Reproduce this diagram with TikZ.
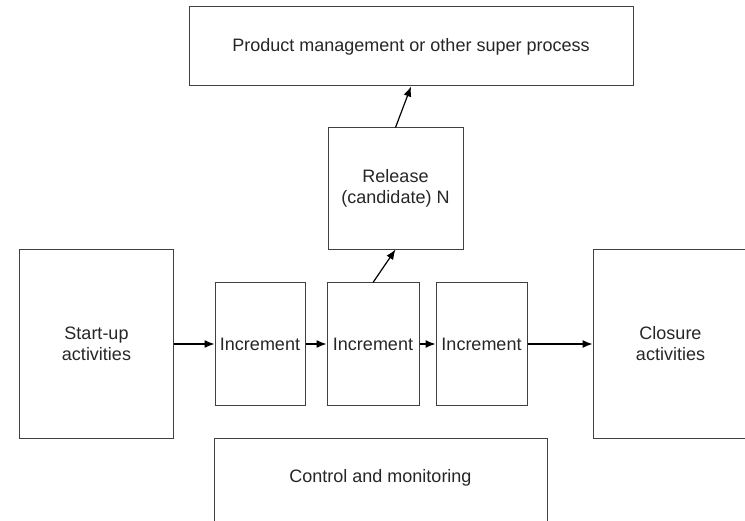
\documentclass[tikz,border=0pt]{standalone}
\usepackage{fontspec}
\setmainfont{Liberation Sans}
\usetikzlibrary{arrows.meta}
\begin{document}
\begin{tikzpicture}[x=1bp,y=-1bp,>={Latex[length=10bp,width=8bp]},
  box/.style={draw=black!75,line width=1bp,inner sep=0pt,align=center,
    text=black!85,font=\fontsize{18bp}{21bp}\selectfont},
  arr/.style={->,line width=1.2bp}]
\useasboundingbox (0,0) rectangle (745,521);
\clip (0,0) rectangle (745,521);
\node (prod) [box,minimum width=444bp,minimum height=79bp] at (411,46.5) {Product management or other super process};
\node (rel) [box,minimum width=135bp,minimum height=121bp] at (395.5,188.5) {Release\\(candidate) N};
\node (start) [box,minimum width=153bp,minimum height=189bp] at (96.5,344) {Start-up\\activities};
\node (inc1) [box,minimum width=90bp,minimum height=122bp] at (260,344) {Increment};
\node (inc2) [box,minimum width=92bp,minimum height=122bp] at (373,344) {Increment};
\node (inc3) [box,minimum width=91bp,minimum height=122bp] at (481.5,344) {Increment};
\node (clos) [box,minimum width=155bp,minimum height=189bp] at (670.5,344) {Closure\\activities};
\node (ctrl) [box,minimum width=333bp,anchor=north,text height=44bp,text depth=80bp] at (380.5,438) {Control and monitoring};
\draw[arr] (start) -- (inc1); \draw[arr] (inc1) -- (inc2);
\draw[arr] (inc2) -- (inc3); \draw[arr] (inc3) -- (clos);
\draw[arr] (inc2.north) -- (rel.south);
\draw[arr] (rel.north) -- (prod.south);
\end{tikzpicture}
\end{document}
